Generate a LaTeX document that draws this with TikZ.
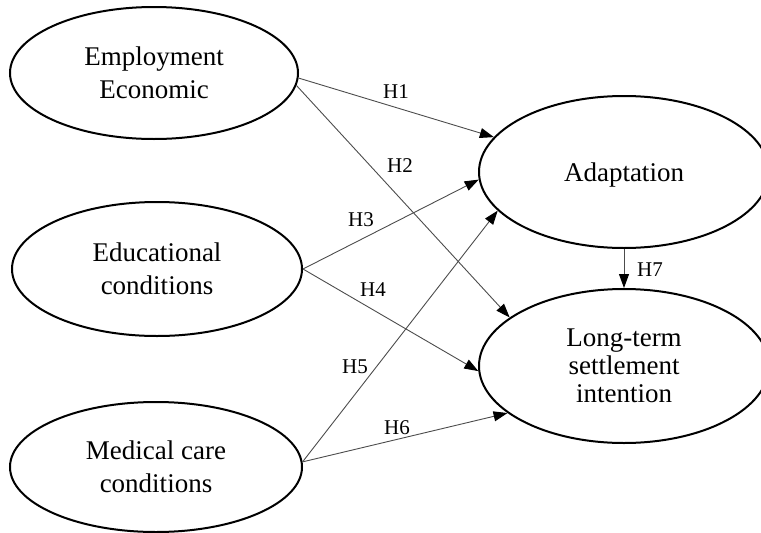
\documentclass[tikz,border=0pt]{standalone}
\usepackage{fontspec}
\setmainfont{Liberation Serif}
\usetikzlibrary{shapes.geometric,arrows.meta}

\begin{document}
\begin{tikzpicture}[x=1pt, y=-1pt,
    construct/.style={ellipse, draw, line width=2pt, inner sep=0pt,
      align=center, font=\fontsize{27}{33}\selectfont},
    path/.style={draw=black!70, line width=0.9pt,
      -{Triangle[length=14pt,width=10pt,fill=black,color=black]}},
    hyp/.style={font=\fontsize{21}{24}\selectfont, inner sep=0pt}]
  \useasboundingbox (0,0) rectangle (761,533);

  % Exogenous constructs on the left, outcomes on the right.
  \node[construct, minimum width=288pt, minimum height=132pt]
      (emp) at (154,73) {Employment\\Economic};
  \node[construct, minimum width=290pt, minimum height=134pt]
      (edu) at (157,269) {Educational\\conditions};
  \node[construct, minimum width=292pt, minimum height=130pt]
      (med) at (156,467) {Medical care\\conditions};
  \node[construct, minimum width=290pt, minimum height=152pt, text depth=0pt]
      (adp) at (624,172) {Adaptation};
  \node[construct, minimum width=290pt, minimum height=154pt,
        font=\fontsize{27}{28}\selectfont]
      (lts) at (624,366) {Long-term\\settlement\\intention};

  \draw[path] (emp.-2) -- (adp.165);
  \draw[path] (emp.-5) -- (lts.157);
  \draw[path] (edu.east) -- (adp.183);
  \draw[path] (edu.east) -- (lts.182);
  \draw[path] (med.2) -- (adp.197);
  \draw[path] (med.2) -- (lts.202);
  \draw[path] (adp.south) -- (lts.north);

  \node[hyp] (h1) at (396,92) {H1};
  \node[hyp] (h2) at (400,166) {H2};
  \node[hyp] (h3) at (361,220) {H3};
  \node[hyp] (h4) at (373,290) {H4};
  \node[hyp] (h5) at (355,367) {H5};
  \node[hyp] (h6) at (397,428) {H6};
  \node[hyp] (h7) at (650,270) {H7};
\end{tikzpicture}
\end{document}
